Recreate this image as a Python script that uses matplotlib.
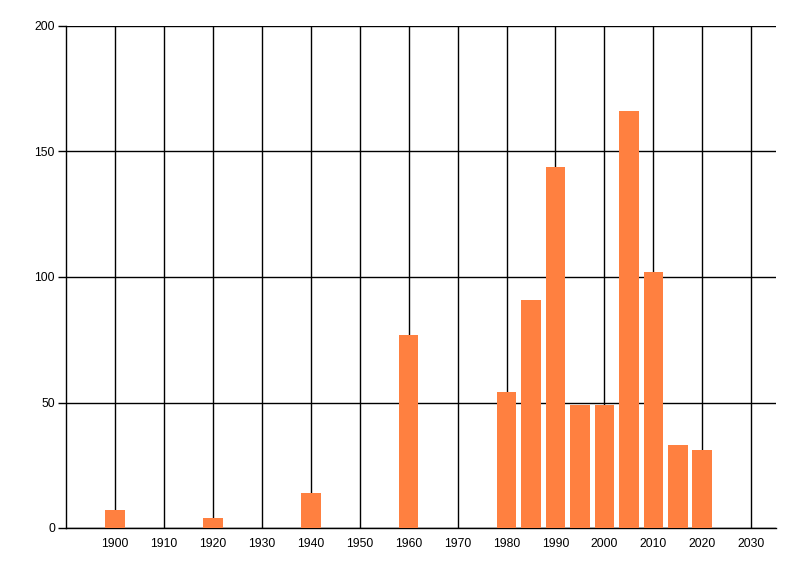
import matplotlib
matplotlib.use("Agg")
import matplotlib.pyplot as plt

years = [1900, 1920, 1940, 1960, 1980, 1985, 1990, 1995, 2000, 2005, 2010, 2015, 2020]
counts = [7, 4, 14, 77, 54, 91, 144, 49, 49, 166, 102, 33, 31]
x_ticks = list(range(1900, 2031, 10))
y_ticks = [0, 50, 100, 150, 200]

plt.rcParams['font.family'] = ['Liberation Sans', 'DejaVu Sans']

fig = plt.figure(figsize=(8, 5.76), dpi=100)
ax = fig.add_axes([66/800, 1 - 528/576, (775.7 - 66)/800, (528 - 26)/576])

ax.bar(years, counts, width=4, color='#FF8040', zorder=3)

ax.set_xlim(1890, 2035)
ax.set_ylim(0, 200)
ax.set_xticks(x_ticks)
ax.set_yticks(y_ticks)
ax.grid(True, color='black', linewidth=1.0, zorder=1)
ax.set_axisbelow(True)

for s in ['top', 'right']:
    ax.spines[s].set_visible(False)
for s in ['left', 'bottom']:
    ax.spines[s].set_color('black')
    ax.spines[s].set_linewidth(1.0)

ax.tick_params(axis='x', length=0, pad=7, labelsize=8.7, colors='black')
ax.tick_params(axis='y', length=6, width=1, pad=2, labelsize=8.7, colors='black')

fig.savefig('out.png', dpi=100)
